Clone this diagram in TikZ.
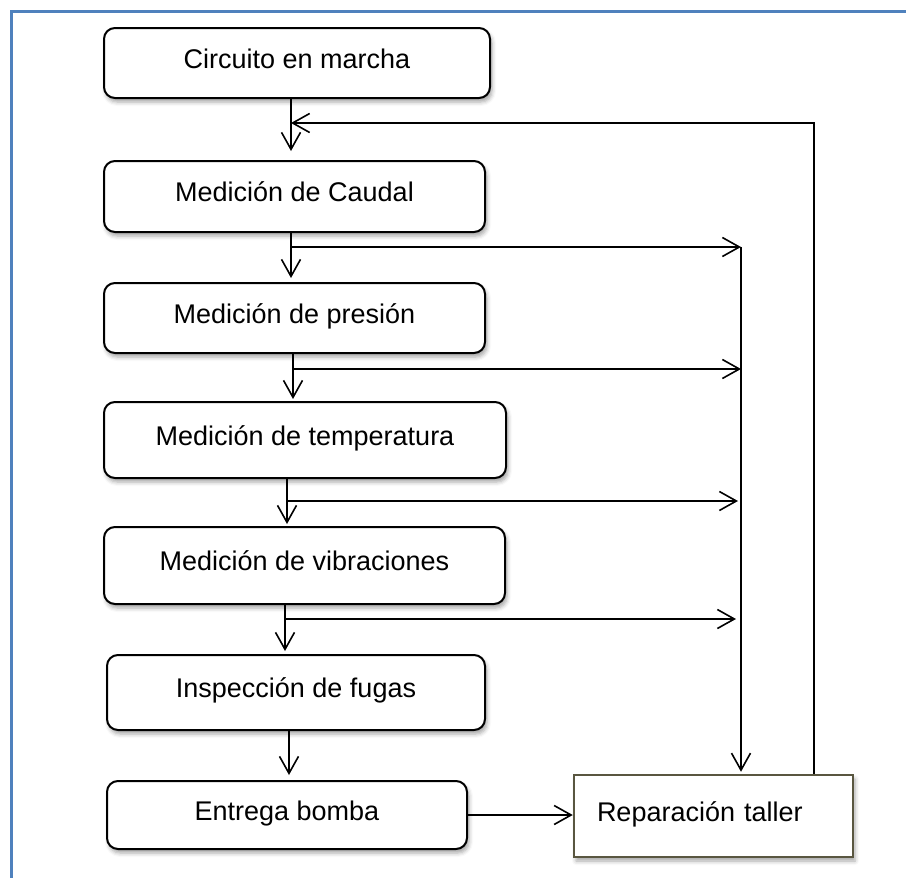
\documentclass[tikz,border=0pt]{standalone}
\usepackage{fontspec}
\setmainfont{Liberation Sans}
\usetikzlibrary{arrows.meta,shadows.blur}
\definecolor{frameblue}{RGB}{79,129,189}
\definecolor{repborder}{RGB}{89,86,64}
\tikzset{
  stepbox/.style={draw=black, line width=2pt, rounded corners=11pt, fill=white,
    font=\fontsize{27}{31}\selectfont, text height=19pt, text depth=9pt, inner sep=0pt,
    blur shadow={shadow xshift=2pt, shadow yshift=-4pt, shadow blur radius=4pt, shadow opacity=35}},
  repbox/.style={draw=repborder, line width=2.5pt, fill=white,
    font=\fontsize{27}{31}\selectfont, text height=19pt, text depth=9pt,
    inner xsep=23pt, inner ysep=0pt, text width=233pt, align=left,
    blur shadow={shadow xshift=2pt, shadow yshift=-4pt, shadow blur radius=4pt, shadow opacity=35}},
  conn/.style={draw=black, line width=1.6pt},
  arr/.style={conn, -{Straight Barb[length=17pt, width=19pt, line width=1.6pt]}},
}
\begin{document}
\begin{tikzpicture}[x=1pt, y=-1pt]
\useasboundingbox (0,0) rectangle (906,878);
% frame
\draw[frameblue, line width=3pt] (11,878) -- (11,11) -- (906,11);

% boxes
\node[stepbox, minimum width=386pt, minimum height=70pt] (circ) at (297,63) {Circuito en marcha};
\node[stepbox, minimum width=381pt, minimum height=71pt] (caud) at (294.5,196.5) {Medición de Caudal};
\node[stepbox, minimum width=381pt, minimum height=70pt] (pres) at (294.5,318) {Medición de presión};
\node[stepbox, minimum width=402pt, minimum height=76pt] (temp) at (305,440) {Medición de temperatura};
\node[stepbox, minimum width=401pt, minimum height=77pt] (vibr) at (304.5,565.5) {Medición de vibraciones};
\node[stepbox, minimum width=378pt, minimum height=75pt] (insp) at (296,692.5) {Inspección de fugas};
\node[stepbox, minimum width=360pt, minimum height=68pt] (entr) at (287,815) {Entrega bomba};
\node[repbox, minimum height=82pt] (rep) at (713.5,816) {Reparación taller};

% trunk x positions and turning points
\coordinate (x1) at (291,0);
\coordinate (x2) at (291,0);
\coordinate (x3) at (293,0);
\coordinate (x4) at (287,0);
\coordinate (x5) at (285,0);
\coordinate (x6) at (289,0);
\coordinate (col) at (741,0);
\coordinate (fb) at (814,0);
\coordinate (fbtop) at (0,123);
\coordinate (b1) at (0,247);
\coordinate (b2) at (0,369);
\coordinate (b3) at (0,501);
\coordinate (b4) at (0,619);

% main flow
\draw[arr, shorten >=9pt] (circ.south -| x1) -- (caud.north -| x1);
\draw[arr, shorten >=4pt] (caud.south -| x2) -- (pres.north -| x2);
\draw[arr, shorten >=2pt] (pres.south -| x3) -- (temp.north -| x3);
\draw[arr, shorten >=2pt] (temp.south -| x4) -- (vibr.north -| x4);
\draw[arr, shorten >=3pt] (vibr.south -| x5) -- (insp.north -| x5);
\draw[arr, shorten >=5pt] (insp.south -| x6) -- (entr.north -| x6);

% branches to the collector
\draw[arr] (b1 -| x2) -- (b1 -| col);
\draw[arr] (b2 -| x3) -- (b2 -| col);
\draw[arr, shorten >=3pt] (b3 -| x4) -- (b3 -| col);
\draw[arr, shorten >=5pt] (b4 -| x5) -- (b4 -| col);
\draw[arr, shorten >=2pt] (b1 -| col) -- (rep.north -| col);

% feedback loop
\draw[arr] (rep.north -| fb) -- (fbtop -| fb) -- (fbtop -| x1);

% delivery to repair
\draw[arr] (entr.east) -- (entr.east -| rep.west);
\end{tikzpicture}
\end{document}
